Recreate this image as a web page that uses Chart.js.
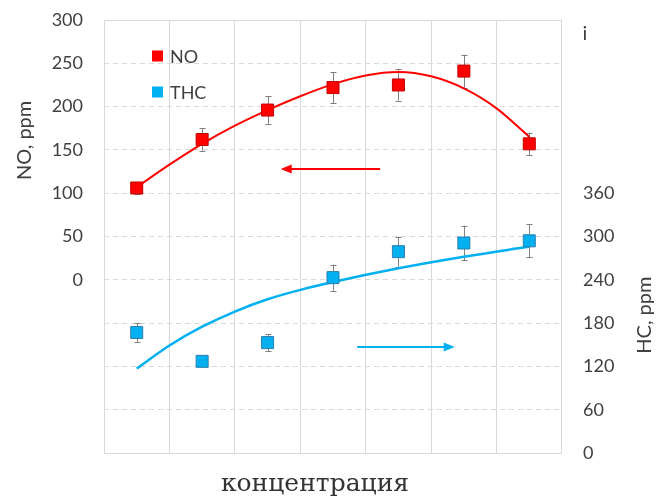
<!DOCTYPE html>
<html><head><meta charset="utf-8">
<script src="https://cdn.jsdelivr.net/npm/chart.js@4"></script>
<style>html,body{margin:0;padding:0;background:#fff}#wrap{width:658px;height:497px;position:relative}</style>
</head><body><div id="wrap"><canvas id="c"></canvas></div>
<script>
// Concentration steps (unlabelled on the axis)
const categories = ['1', '2', '3', '4', '5', '6', '7'];

// NO, ppm (left axis)
const noValues = [106, 162, 196, 222, 225, 241, 157];
const noErrors = [7, 13, 16, 18, 18, 19, 13];

// THC / HC, ppm (right axis)
const thcValues = [167, 127, 153, 243, 279, 291, 294];
const thcErrors = [13, 5, 12, 18, 21, 24, 23];

// Fitted trend curves, sampled along the concentration steps (0 = first step)
const noTrendSteps = [0, 0.5, 1, 1.5, 2, 2.5, 3, 3.5, 4, 4.5, 5, 5.5, 6];
const noTrendValues = [107, 133, 157, 178, 196, 212, 226, 236, 240, 235, 221, 198, 165];
const thcTrendSteps = [0, 0.5, 1, 1.5, 2, 2.5, 3, 4, 5, 6];
const thcTrendValues = [117, 149, 175, 196, 213, 226, 237, 256, 272, 286];

// Tick labels shown on each axis
const noTicks = [0, 50, 100, 150, 200, 250, 300];
const hcTicks = [0, 60, 120, 180, 240, 300, 360];

const RED = '#ff0000', BLUE = '#00b0f0';
const TEXT = '#404040', GRID = '#d9d9d9';
const SANS = 'Lato, "Liberation Sans", sans-serif';

const toXY = (xs, ys) => xs.map((x, i) => ({ x, y: ys[i] }));

// Error bars for the marker datasets
const errorBars = {
  id: 'errorBars',
  beforeDatasetsDraw(chart) {
    const ctx = chart.ctx;
    const sets = [[2, noErrors, 'y'], [3, thcErrors, 'y2']];
    ctx.save();
    ctx.strokeStyle = '#7f7f7f';
    ctx.lineWidth = 1;
    for (const [di, errs, axis] of sets) {
      const ds = chart.data.datasets[di];
      const ys = chart.scales[axis];
      ds.data.forEach((v, i) => {
        const x = Math.round(chart.scales.x.getPixelForValue(i)) + 0.5;
        const y1 = ys.getPixelForValue(v + errs[i]);
        const y2 = ys.getPixelForValue(v - errs[i]);
        ctx.beginPath();
        ctx.moveTo(x, y1); ctx.lineTo(x, y2);
        ctx.moveTo(x - 3, Math.round(y1) + 0.5); ctx.lineTo(x + 3, Math.round(y1) + 0.5);
        ctx.moveTo(x - 3, Math.round(y2) + 0.5); ctx.lineTo(x + 3, Math.round(y2) + 0.5);
        ctx.stroke();
      });
    }
    ctx.restore();
  }
};

// Plot frame, axis direction arrows, legend and axis titles
const decorations = {
  id: 'decorations',
  afterDatasetsDraw(chart) {
    const ctx = chart.ctx, a = chart.chartArea;
    const sx = chart.scales.x, sy = chart.scales.y, sy2 = chart.scales.y2;
    ctx.save();
    ctx.strokeStyle = GRID;
    ctx.lineWidth = 1;
    ctx.strokeRect(Math.round(a.left) + 0.5, Math.round(a.top) + 0.5,
      Math.round(a.right - a.left) - 1, Math.round(a.bottom - a.top));

    function arrow(x0, x1, y, color) {
      const dir = Math.sign(x1 - x0);
      ctx.strokeStyle = color; ctx.fillStyle = color; ctx.lineWidth = 2;
      ctx.beginPath(); ctx.moveTo(x0, y); ctx.lineTo(x1 - dir * 9, y); ctx.stroke();
      ctx.beginPath();
      ctx.moveTo(x1, y); ctx.lineTo(x1 - dir * 11, y - 4.5); ctx.lineTo(x1 - dir * 11, y + 4.5);
      ctx.closePath(); ctx.fill();
    }
    arrow(sx.getPixelForValue(3.72), sx.getPixelForValue(2.2), sy.getPixelForValue(128), RED);
    arrow(sx.getPixelForValue(3.37), sx.getPixelForValue(4.86), sy2.getPixelForValue(147), BLUE);

    // legend
    ctx.font = '18px ' + SANS;
    ctx.textBaseline = 'middle';
    ctx.textAlign = 'left';
    [['NO', RED, 36], ['THC', BLUE, 72]].forEach(([t, c, dy]) => {
      ctx.fillStyle = c;
      ctx.fillRect(a.left + 48, a.top + dy - 5.5, 11, 11);
      ctx.fillStyle = TEXT;
      ctx.fillText(t, a.left + 66, a.top + dy + 1);
    });

    // axis titles
    ctx.fillStyle = TEXT;
    ctx.font = '20px ' + SANS;
    ctx.textAlign = 'center';
    ctx.save();
    ctx.translate(a.left - 79, sy.getPixelForValue(161));
    ctx.rotate(-Math.PI / 2);
    ctx.fillText('NO, ppm', 0, 0);
    ctx.restore();
    ctx.save();
    ctx.translate(a.right + 83, sy2.getPixelForValue(191));
    ctx.rotate(-Math.PI / 2);
    ctx.fillText('HC, ppm', 0, 0);
    ctx.restore();
    ctx.fillText('i', a.right + 23, a.top + 14);

    ctx.font = '25px "DejaVu Serif", serif';
    ctx.fillStyle = '#333333';
    ctx.fillText('концентрация', (a.left + a.right) / 2 - 18, a.bottom + 31);
    ctx.restore();
  }
};

const noOverflow = s => { s.paddingTop = 0; s.paddingBottom = 0; };

new Chart(document.getElementById('c'), {
  type: 'line',
  data: {
    labels: categories,
    datasets: [
      { label: 'NO trend', data: toXY(noTrendSteps, noTrendValues), xAxisID: 'xt', yAxisID: 'y',
        borderColor: RED, borderWidth: 2, pointRadius: 0, cubicInterpolationMode: 'monotone',
        fill: false, order: 3 },
      { label: 'THC trend', data: toXY(thcTrendSteps, thcTrendValues), xAxisID: 'xt', yAxisID: 'y2',
        borderColor: BLUE, borderWidth: 2.5, pointRadius: 0, cubicInterpolationMode: 'monotone',
        fill: false, order: 4 },
      { label: 'NO', data: noValues, yAxisID: 'y', showLine: false, pointStyle: 'rect',
        pointRadius: 8.5, backgroundColor: RED, borderColor: '#c00000', borderWidth: 1, order: 1 },
      { label: 'THC', data: thcValues, yAxisID: 'y2', showLine: false, pointStyle: 'rect',
        pointRadius: 8.5, backgroundColor: BLUE, borderColor: '#2f7fb0', borderWidth: 1, order: 2 }
    ]
  },
  options: {
    responsive: true,
    maintainAspectRatio: false,
    animation: false,
    layout: { autoPadding: false, padding: { left: 0, right: 0, top: 20, bottom: 0 } },
    plugins: { legend: { display: false }, tooltip: { enabled: false } },
    scales: {
      x: {
        offset: true,
        grid: { offset: true, color: GRID, drawTicks: false },
        border: { display: false },
        ticks: { display: false },
        afterFit: s => { s.height = 44; }
      },
      xt: {
        type: 'linear',
        display: false,
        min: -0.5, max: 6.5
      },
      y: {
        position: 'left',
        min: -200, max: 300,
        ticks: { stepSize: 50, padding: 21, color: TEXT, font: { family: SANS, size: 18 },
          callback: v => noTicks.includes(v) ? String(v) : '' },
        grid: { color: GRID, drawTicks: false },
        border: { display: false, dash: [5, 4] },
        afterFit: s => { s.width = 104; noOverflow(s); }
      },
      y2: {
        position: 'right',
        min: 0, max: 600,
        ticks: { stepSize: 60, padding: 21, color: TEXT, font: { family: SANS, size: 18 },
          callback: v => hcTicks.includes(v) ? String(v) : '' },
        grid: { display: false, drawTicks: false },
        border: { display: false },
        afterFit: s => { s.width = 96; noOverflow(s); }
      }
    }
  },
  plugins: [errorBars, decorations]
});
</script></body></html>
